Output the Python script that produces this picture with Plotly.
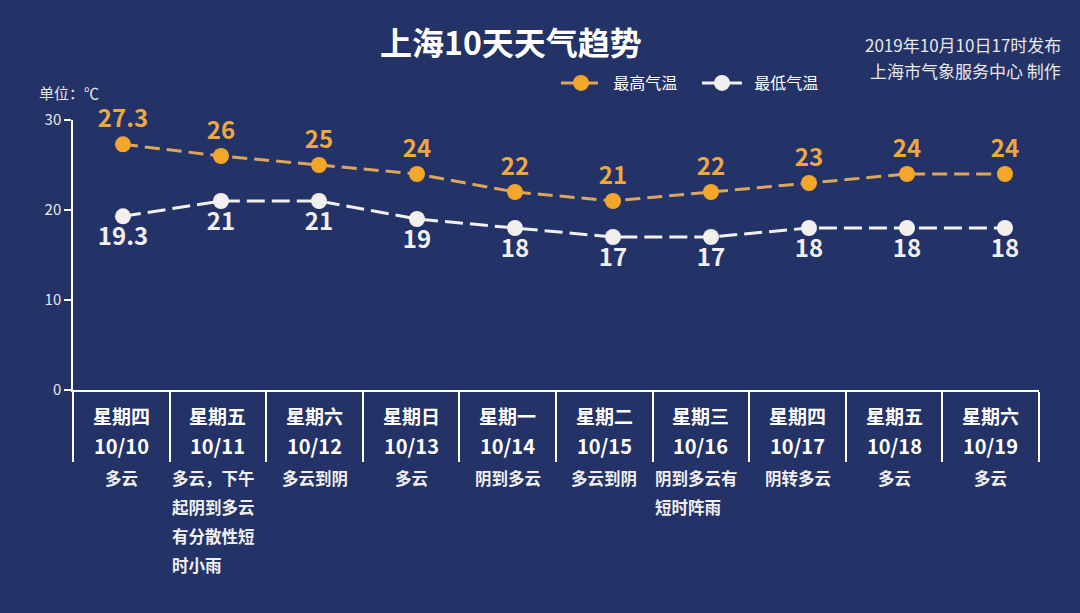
import plotly.graph_objects as go

weekdays = ["星期四", "星期五", "星期六", "星期日", "星期一", "星期二", "星期三", "星期四", "星期五", "星期六"]
dates = ["10/10", "10/11", "10/12", "10/13", "10/14", "10/15", "10/16", "10/17", "10/18", "10/19"]
weather = ["多云", "多云，下午\n起阴到多云\n有分散性短\n时小雨", "多云到阴", "多云", "阴到多云",
           "多云到阴", "阴到多云有\n短时阵雨", "阴转多云", "多云", "多云"]
high = [27.3, 26, 25, 24, 22, 21, 22, 23, 24, 24]
low = [19.3, 21, 21, 19, 18, 17, 17, 18, 18, 18]
y_ticks = [0, 10, 20, 30]

BG = "#233267"
ORANGE = "#F4A62A"
ORANGE_LINE = "#DDA65C"
ORANGE_TEXT = "#EDA940"
WHITE = "#F2F0EE"
FONT = "Noto Sans CJK SC"

W, H = 1080, 613
ML, MR, MT, MB = 73, 41, 120, 223
PW = W - ML - MR
PH = H - MT - MB

def py(pixel_y):
    return (H - MB - pixel_y) / PH

def px(pixel_x):
    return (pixel_x - ML) / PW

x_idx = list(range(len(dates)))

fig = go.Figure()
fig.add_trace(go.Scatter(
    x=x_idx, y=high, name="\u00a0\u00a0最高气温", mode="lines+markers+text", xaxis="x2",
    line=dict(color=ORANGE_LINE, width=3, dash="15px,7px"),
    marker=dict(color=ORANGE, size=16),
    text=[str(v) for v in high], textposition="top center",
    textfont=dict(family=FONT, size=24, color=ORANGE_TEXT, weight="bold"),
    cliponaxis=False,
))
fig.add_trace(go.Scatter(
    x=x_idx, y=low, name="\u00a0\u00a0最低气温", mode="lines+markers+text", xaxis="x2",
    line=dict(color=WHITE, width=3, dash="18px,7px"),
    marker=dict(color=WHITE, size=16),
    text=[str(v) for v in low], textposition="bottom center",
    textfont=dict(family=FONT, size=24, color=WHITE, weight="bold"),
    cliponaxis=False,
))

ann = []
for i, (d, dt, w) in enumerate(zip(weekdays, dates, weather)):
    ann.append(dict(x=i, y=py(415), xref="x", yref="paper", text=f"<b>{d}</b>", showarrow=False,
                    font=dict(family=FONT, size=19, color="white"), yanchor="middle"))
    ann.append(dict(x=i, y=py(445), xref="x", yref="paper", text=f"<b>{dt}</b>", showarrow=False,
                    font=dict(family=FONT, size=20, color="white"), yanchor="middle"))
    lines = w.split("\n")
    multi = len(lines) > 1
    for k, ln in enumerate(lines):
        ann.append(dict(x=(i - 0.5) if multi else i, y=py(478 + 29 * k), xref="x", yref="paper",
                        text=f"<b>{ln}</b>", showarrow=False,
                        xanchor="left" if multi else "center", yanchor="middle",
                        font=dict(family=FONT, size=16.5, color="#F0F0F0")))

ann.append(dict(x=px(511), y=py(41), xref="paper", yref="paper",
                text="<b>上海10天天气趋势</b>", showarrow=False,
                font=dict(family=FONT, size=32, color="white"), yanchor="middle"))
ann.append(dict(x=px(1063), y=py(44), xref="paper", yref="paper",
                text="2019年10月10日17时发布", showarrow=False, xanchor="right",
                font=dict(family=FONT, size=17, color="#E8E8E8"), yanchor="middle"))
ann.append(dict(x=px(1063), y=py(70), xref="paper", yref="paper",
                text="上海市气象服务中心 制作", showarrow=False, xanchor="right",
                font=dict(family=FONT, size=17, color="#E8E8E8"), yanchor="middle"))
ann.append(dict(x=px(37), y=py(93), xref="paper", yref="paper",
                text="单位：℃", showarrow=False, xanchor="left",
                font=dict(family=FONT, size=15, color="#E8E8E8"), yanchor="middle"))

fig.update_layout(
    width=W, height=H,
    margin=dict(l=ML, r=MR, t=MT, b=MB),
    paper_bgcolor=BG, plot_bgcolor=BG,
    showlegend=True,
    legend=dict(orientation="h", x=px(556), y=py(66), xanchor="left", yanchor="top",
                font=dict(family=FONT, size=16, color="white"), bgcolor="rgba(0,0,0,0)",
                itemwidth=40, tracegroupgap=0, entrywidth=86),
    annotations=ann,
    xaxis=dict(
        type="linear", range=[-0.5, 9.5], tickmode="array",
        tickvals=[i - 0.5 for i in range(len(dates) + 1)], ticktext=[""] * (len(dates) + 1),
        ticks="outside", ticklen=70, tickwidth=1.5, tickcolor="white",
        showline=True, linecolor="white", linewidth=1.5, showgrid=False, zeroline=False,
    ),
    xaxis2=dict(
        overlaying="x", range=[-0.51, 9.347], visible=False, showgrid=False, zeroline=False,
    ),
    yaxis=dict(
        range=[0, 30], tickvals=y_ticks, ticks="outside", ticklen=7, tickcolor="white", tickwidth=1.5,
        showline=True, linecolor="white", linewidth=1.5, showgrid=False, zeroline=False,
        tickfont=dict(family=FONT, size=15, color="#E8E8E8"),
    ),
)

fig.write_html("out.html", config={"displayModeBar": False},
               post_script="document.body.style.margin='0';document.body.style.background='#233267';")
